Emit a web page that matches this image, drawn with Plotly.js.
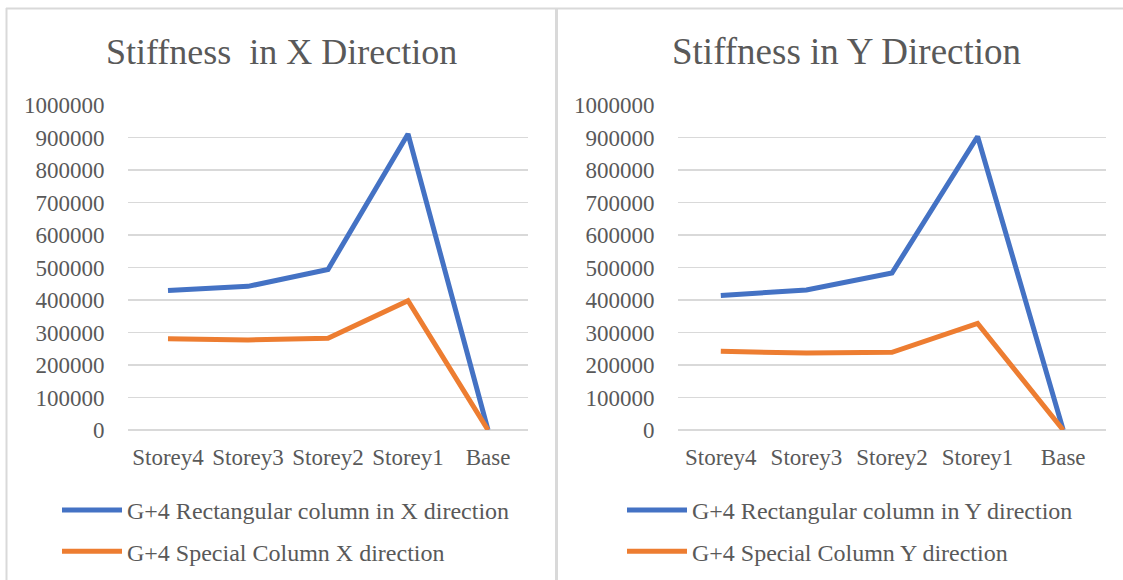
<!DOCTYPE html>
<html>
<head>
<meta charset="utf-8">
<script src="https://cdn.plot.ly/plotly-3.0.1.min.js"></script>
<style>
  html, body { margin: 0; padding: 0; background: #ffffff; }
  #chart { width: 1123px; height: 580px; }
</style>
</head>
<body>
<div id="chart"></div>
<script>
// ---- data ----
const categories = ["Storey4", "Storey3", "Storey2", "Storey1", "Base"];

const rectX = [429000, 442000, 494000, 911000, 0];
const specialX = [281000, 277000, 282000, 398000, 0];

const rectY = [414000, 431000, 483000, 903000, 0];
const specialY = [242000, 237000, 239000, 328000, 0];

const titleX = "Stiffness  in X Direction";
const titleY = "Stiffness in Y Direction";
const nameRectX = "G+4 Rectangular column in X direction";
const nameSpecX = "G+4 Special Column X direction";
const nameRectY = "G+4 Rectangular column in Y direction";
const nameSpecY = "G+4 Special Column Y direction";

// ---- style ----
const W = 1123, H = 580;
const BLUE = "#4472C4", ORANGE = "#ED7D31";
const GRID = "#D9D9D9", TEXT = "#595959";
const FONT = "'Liberation Serif', 'Times New Roman', serif";
const px = v => v / W;
const py = v => 1 - v / H;

const traces = [
  { x: categories, y: rectX, name: nameRectX, type: "scatter", mode: "lines",
    line: { color: BLUE, width: 5 }, xaxis: "x", yaxis: "y", legend: "legend", legendgroup: "a" },
  { x: categories, y: specialX, name: nameSpecX, type: "scatter", mode: "lines",
    line: { color: ORANGE, width: 5 }, xaxis: "x", yaxis: "y", legend: "legend", legendgroup: "b" },
  { x: categories, y: rectY, name: nameRectY, type: "scatter", mode: "lines",
    line: { color: BLUE, width: 5 }, xaxis: "x2", yaxis: "y2", legend: "legend2", legendgroup: "c" },
  { x: categories, y: specialY, name: nameSpecY, type: "scatter", mode: "lines",
    line: { color: ORANGE, width: 5 }, xaxis: "x2", yaxis: "y2", legend: "legend2", legendgroup: "d" }
];

function xax(domain, anchor) {
  return {
    domain: domain, anchor: anchor, type: "category", range: [-0.5, 4.5],
    showgrid: false, zeroline: false, showline: false,
    ticks: "outside", ticklen: 6, tickcolor: "rgba(0,0,0,0)",
    tickfont: { family: FONT, size: 23, color: TEXT }, fixedrange: true
  };
}
function yax(anchor) {
  return {
    domain: [py(430), py(105)], anchor: anchor, range: [0, 1000000], dtick: 100000,
    tickformat: "d", showgrid: true, gridcolor: GRID, gridwidth: 1.5,
    zeroline: true, zerolinecolor: GRID, zerolinewidth: 1.5, showline: false,
    ticks: "outside", ticklen: 18, tickcolor: "rgba(0,0,0,0)",
    tickfont: { family: FONT, size: 23, color: TEXT }, fixedrange: true
  };
}

const legendBase = {
  orientation: "v", bgcolor: "rgba(0,0,0,0)", borderwidth: 0,
  font: { family: FONT, size: 24, color: TEXT },
  traceorder: "grouped", tracegroupgap: 7, itemwidth: 60,
  xanchor: "left", yanchor: "top"
};

const layout = {
  width: W, height: H,
  margin: { l: 0, r: 0, t: 0, b: 0 },
  paper_bgcolor: "#ffffff", plot_bgcolor: "#ffffff",
  font: { family: FONT, color: TEXT },
  showlegend: true,
  xaxis: xax([px(128), px(528)], "y"),
  yaxis: yax("x"),
  xaxis2: xax([px(678), px(1106)], "y2"),
  yaxis2: yax("x2"),
  legend: Object.assign({}, legendBase, { x: px(57), y: py(488) }),
  legend2: Object.assign({}, legendBase, { x: px(622), y: py(488) }),
  annotations: [
    { text: titleX, xref: "paper", yref: "paper", x: px(281), y: py(52),
      xanchor: "center", yanchor: "middle", showarrow: false,
      font: { family: FONT, size: 36, color: TEXT } },
    { text: titleY, xref: "paper", yref: "paper", x: px(846), y: py(52),
      xanchor: "center", yanchor: "middle", showarrow: false,
      font: { family: FONT, size: 37, color: TEXT } }
  ],
  shapes: [
    { type: "line", xref: "paper", yref: "paper", x0: px(6.5), x1: px(6.5), y0: py(8), y1: 0,
      line: { color: GRID, width: 2 } },
    { type: "line", xref: "paper", yref: "paper", x0: px(6), x1: 1, y0: py(8.5), y1: py(8.5),
      line: { color: GRID, width: 2 } },
    { type: "line", xref: "paper", yref: "paper", x0: px(556.5), x1: px(556.5), y0: py(8), y1: 0,
      line: { color: GRID, width: 3 } }
  ]
};

Plotly.newPlot("chart", traces, layout, { staticPlot: true, displayModeBar: false });
</script>
</body>
</html>
